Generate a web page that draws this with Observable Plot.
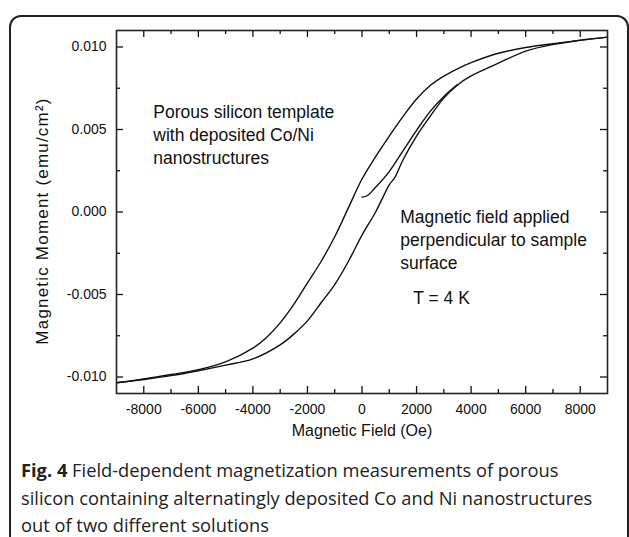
<!DOCTYPE html>
<html>
<head>
<meta charset="utf-8">
<script src="https://cdn.jsdelivr.net/npm/d3@7"></script>
<script src="https://cdn.jsdelivr.net/npm/@observablehq/plot@0.6"></script>
<style>
  html, body { margin: 0; padding: 0; background: #fff; width: 629px; height: 537px; overflow: hidden; }
  #wrap { position: relative; width: 629px; height: 537px; }
  #border { position: absolute; left: 9px; top: 15px; width: 616px; height: 620px; border: 2px solid #222; border-radius: 12px; }
  #chart { position: absolute; left: 0; top: 0; }
  #caption { position: absolute; left: 21px; top: 456px; font-family: "Open Sans", sans-serif; font-size: 18.3px; line-height: 27.5px; color: #222; white-space: nowrap; }
  #caption b { font-weight: 700; }
</style>
</head>
<body>
<div id="wrap">
  <div id="border"></div>
  <div id="chart"></div>
  <div id="caption"></div>
</div>
<script>
// ---- data ----
const descH = [9000, 8000, 7000, 6000, 5000, 4000, 3500, 3000, 2500, 2000, 1500, 1000, 500, 0, -500, -1000, -1500, -2000, -2500, -3000, -3500, -4000, -5000, -6000, -7000, -8000, -9000];
const descM = [0.01060, 0.01042, 0.01020, 0.00997, 0.00962, 0.00905, 0.00868, 0.00824, 0.00767, 0.00685, 0.00578, 0.00460, 0.00335, 0.00200, 0.00025, -0.00150, -0.00300, -0.00430, -0.00560, -0.00672, -0.00760, -0.00825, -0.00908, -0.00955, -0.00985, -0.01012, -0.01035];

const ascH = [-9000, -8000, -7000, -6000, -5000, -4000, -3000, -2500, -2000, -1500, -1000, -500, 0, 500, 1000, 1200, 1500, 2000, 2500, 3000, 3500, 4000, 5000, 6000, 7000, 8000, 9000];
const ascM = [-0.01035, -0.01015, -0.00992, -0.00962, -0.00928, -0.00890, -0.00805, -0.00740, -0.00660, -0.00550, -0.00440, -0.00300, -0.00140, 0.00000, 0.00165, 0.00208, 0.00315, 0.00460, 0.00580, 0.00690, 0.00770, 0.00825, 0.00902, 0.00975, 0.01015, 0.01040, 0.01060];

const virginH = [0, 200, 500, 1000, 1500, 2000, 2500, 3000, 3500];
const virginM = [0.00090, 0.00100, 0.00150, 0.00245, 0.00370, 0.00495, 0.00610, 0.00700, 0.00772];

const xTicks = [-8000, -6000, -4000, -2000, 0, 2000, 4000, 6000, 8000];
const xTickLabels = ["-8000", "-6000", "-4000", "-2000", "0", "2000", "4000", "6000", "8000"];
const xMinor = [-7000, -5000, -3000, -1000, 1000, 3000, 5000, 7000];
const yTicks = [-0.010, -0.005, 0.000, 0.005, 0.010];
const yTickLabels = ["-0.010", "-0.005", "0.000", "0.005", "0.010"];
const yMinor = [-0.0075, -0.0025, 0.0025, 0.0075];

const xTitle = "Magnetic Field (Oe)";
const yTitle = "Magnetic Moment (emu/cm²)";

const annoText = ["Porous silicon template\nwith deposited Co/Ni\nnanostructures", "Magnetic field applied\nperpendicular to sample\nsurface", "T = 4 K"];
const annoH = [-7650, 1400, 1880];
const annoM = [0.00665, 0.00030, -0.00460];

const captionBold = "Fig. 4";
const captionLines = ["Field-dependent magnetization measurements of porous", "silicon containing alternatingly deposited Co and Ni nanostructures", "out of two different solutions"];

// ---- build ----
const toRows = (hs, ms, s) => hs.map((h, i) => ({H: h, M: ms[i], branch: s}));
const curves = [...toRows(descH, descM, "desc"), ...toRows(ascH, ascM, "asc"), ...toRows(virginH, virginM, "virgin")];
const annos = annoText.map((t, i) => ({t, H: annoH[i], M: annoM[i]}));

const W = 629, Hh = 448;
const mL = 116, mR = 22, mT = 30, mB = Hh - 393;
const iW = W - mL - mR, iH = Hh - mT - mB;
const tickStroke = "#111";
const font = "Liberation Sans, Arial, sans-serif";

const chart = Plot.plot({
  width: W, height: Hh,
  marginLeft: mL, marginRight: mR, marginTop: mT, marginBottom: mB,
  style: {fontFamily: font, fontSize: "14px", color: "#111", background: "transparent"},
  x: {domain: [-9000, 9000]},
  y: {domain: [-0.011, 0.011]},
  marks: [
    Plot.axisX({ticks: xTicks, tickSize: 0, tickPadding: 11, tickFormat: (d) => xTickLabels[xTicks.indexOf(d)], fontSize: 14, label: null}),
    Plot.axisY({ticks: yTicks, tickSize: 0, tickPadding: 10, tickFormat: (d) => yTickLabels[yTicks.indexOf(d)], fontSize: 14, label: null}),
    // inward ticks, bottom & top
    Plot.tickX(xTicks, {x: (d) => d, insetTop: iH - 7, stroke: tickStroke, strokeWidth: 1.3}),
    Plot.tickX(xMinor, {x: (d) => d, insetTop: iH - 4, stroke: tickStroke, strokeWidth: 1.3}),
    Plot.tickX(xTicks, {x: (d) => d, insetBottom: iH - 7, stroke: tickStroke, strokeWidth: 1.3}),
    Plot.tickX(xMinor, {x: (d) => d, insetBottom: iH - 4, stroke: tickStroke, strokeWidth: 1.3}),
    // inward ticks, left & right
    Plot.tickY(yTicks, {y: (d) => d, insetRight: iW - 7, stroke: tickStroke, strokeWidth: 1.3}),
    Plot.tickY(yMinor, {y: (d) => d, insetRight: iW - 4, stroke: tickStroke, strokeWidth: 1.3}),
    Plot.tickY(yTicks, {y: (d) => d, insetLeft: iW - 7, stroke: tickStroke, strokeWidth: 1.3}),
    Plot.tickY(yMinor, {y: (d) => d, insetLeft: iW - 4, stroke: tickStroke, strokeWidth: 1.3}),
    Plot.line(curves, {x: "H", y: "M", z: "branch", stroke: "#111", strokeWidth: 1.4, curve: "catmull-rom"}),
    Plot.frame({stroke: "#222", strokeWidth: 1.6}),
    Plot.text(annos, {x: "H", y: "M", text: "t", textAnchor: "start", lineAnchor: "top", lineHeight: 1.3, fontSize: 17.5, fill: "#111"}),
    Plot.text([xTitle], {text: (d) => d, frameAnchor: "bottom", dy: 42, fontSize: 16, fill: "#111"}),
    Plot.text([yTitle], {text: (d) => d, frameAnchor: "left", textAnchor: "middle", dx: -74, dy: 9, rotate: -90, fontSize: 17, fill: "#111"})
  ]
});
document.getElementById("chart").appendChild(chart);
d3.select(chart).selectAll("text").filter(function () { return this.textContent === yTitle; }).attr("letter-spacing", "1.2px");

const cap = document.getElementById("caption");
cap.innerHTML = "<b>" + captionBold + "</b> " + captionLines.join("<br>");
</script>
</body>
</html>
